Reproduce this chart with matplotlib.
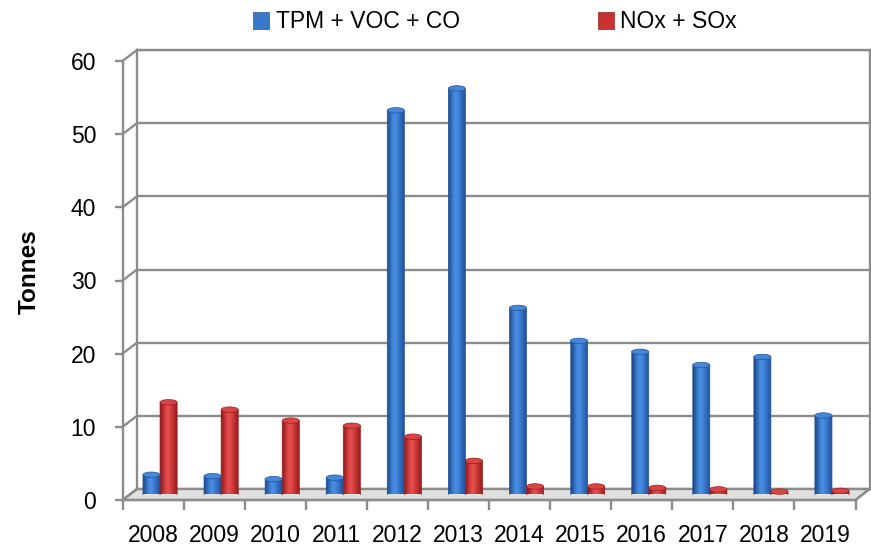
import numpy as np
import matplotlib
matplotlib.use('Agg')
import matplotlib.pyplot as plt
from matplotlib.patches import Ellipse, PathPatch, Patch, Polygon
from matplotlib.path import Path
from matplotlib.colors import LinearSegmentedColormap
from matplotlib.lines import Line2D

plt.rcParams['font.family'] = ['Liberation Sans', 'DejaVu Sans']

# ---------------- data ----------------
years = ['2008', '2009', '2010', '2011', '2012', '2013',
         '2014', '2015', '2016', '2017', '2018', '2019']
tpm_voc_co = [2.7, 2.5, 2.1, 2.3, 52.5, 55.5, 25.5, 21.0, 19.5, 17.7, 18.8, 10.8]
nox_sox = [12.6, 11.6, 10.1, 9.4, 7.9, 4.6, 1.1, 1.1, 0.9, 0.7, 0.4, 0.5]
series_names = ['TPM + VOC + CO', 'NOx + SOx']
y_ticks = [0, 10, 20, 30, 40, 50, 60]
y_label = 'Tonnes'

# ---------------- style ----------------
W, H = 871, 546
grid_c = '#8C8C8C'
grid_lw = 1.7
blue_cmap = LinearSegmentedColormap.from_list(
    'b', [(0, '#1B4784'), (0.3, '#3F84DA'), (0.45, '#4A8FE3'), (0.7, '#3572C6'), (1, '#1D4B8E')])
red_cmap = LinearSegmentedColormap.from_list(
    'r', [(0, '#8A1616'), (0.3, '#DA4343'), (0.45, '#E55252'), (0.7, '#C83434'), (1, '#8F1A1A')])
series_style = [
    dict(cmap=blue_cmap, cap='#4586D8', edge='#24569C', legend='#3A78C9'),
    dict(cmap=red_cmap, cap='#D94545', edge='#9A2020', legend='#C83232'),
]

n = len(years)
ymax = y_ticks[-1]
fig = plt.figure(figsize=(W / 100, H / 100), dpi=100)


def add_px_axes(x_left, x_right, y_zero, y_top, z):
    ax = fig.add_axes([x_left / W, 1 - y_zero / H, (x_right - x_left) / W, (y_zero - y_top) / H],
                      zorder=z)
    ax.set_xlim(-0.5, n - 0.5)
    ax.set_ylim(0, ymax)
    ax.patch.set_visible(False)
    return ax


back = add_px_axes(137, 869.5, 489, 50, 0)
mid = add_px_axes(129.5, 862.5, 494.5, 55.5, 1)
front = add_px_axes(122.5, 855.5, 500, 61, 2)

# ---------------- back wall ----------------
back.set_xticks([])
back.set_yticks(y_ticks)
back.tick_params(left=False, labelleft=False)
back.grid(axis='y', color=grid_c, lw=grid_lw)
for s in ['left', 'right', 'top']:
    back.spines[s].set(color=grid_c, lw=grid_lw)
back.spines['bottom'].set_visible(False)


def front_to_back(x, y):
    return back.transData.inverted().transform(front.transData.transform((x, y)))


# floor
fl = front_to_back(-0.5, 0)
fr = front_to_back(n - 0.5, 0)
floor = Polygon([(-0.5, 0), (n - 0.5, 0), fr, fl], closed=True, facecolor='#E0E0E0',
                edgecolor=grid_c, lw=grid_lw, clip_on=False, zorder=0.5)
back.add_patch(floor)

# diagonal connectors on the left wall edge
for v in y_ticks:
    p = front_to_back(-0.5, v)
    back.add_line(Line2D([p[0], -0.5], [p[1], v], color=grid_c, lw=grid_lw, clip_on=False))

# ---------------- cylinders ----------------
bw = 0.28
eh = 0.75


def cylinder(ax, xc, val, w, st):
    x0, x1 = xc - w / 2, xc + w / 2
    th = np.linspace(np.pi, 2 * np.pi, 40)
    bottom = np.column_stack([xc + w / 2 * np.cos(th), eh / 2 * np.sin(th)])
    verts = np.vstack([[x0, val], bottom, [x1, val], [x0, val]])
    codes = [Path.MOVETO] + [Path.LINETO] * (len(verts) - 2) + [Path.CLOSEPOLY]
    path = Path(verts, codes)
    clip = PathPatch(path, transform=ax.transData, facecolor='none', edgecolor='none')
    ax.add_patch(clip)
    grad = np.linspace(0, 1, 64).reshape(1, -1)
    im = ax.imshow(grad, cmap=st['cmap'], extent=(x0, x1, -eh / 2, val), aspect='auto',
                   interpolation='bilinear', origin='lower', zorder=2)
    im.set_clip_path(clip)
    ax.add_patch(PathPatch(path, facecolor='none', edgecolor=st['edge'], lw=0.5, zorder=3))
    ax.add_patch(Ellipse((xc, val), w, eh, facecolor=st['cap'], edgecolor=st['edge'],
                         lw=0.5, zorder=4))


for j, vals in enumerate([tpm_voc_co, nox_sox]):
    for i, v in enumerate(vals):
        cylinder(mid, i + (j - 0.5) * bw, v, bw, series_style[j])

mid.set_xlim(-0.5, n - 0.5)
mid.set_ylim(0, ymax)
mid.set_axis_off()

# ---------------- front axes ----------------
for s in ['top', 'right']:
    front.spines[s].set_visible(False)
for s in ['left', 'bottom']:
    front.spines[s].set(color=grid_c, lw=grid_lw)
front.set_yticks(y_ticks)
front.set_yticklabels([str(t) for t in y_ticks])
front.tick_params(axis='y', direction='out', length=6, width=grid_lw, color=grid_c,
                  pad=13, labelsize=16.5)
front.set_xticks(np.arange(n + 1) - 0.5)
front.set_xticks(np.arange(n), minor=True)
front.set_xticklabels(years, minor=True)
front.tick_params(axis='x', which='major', direction='out', length=7, width=grid_lw,
                  color=grid_c, labelbottom=False)
front.tick_params(axis='x', which='minor', length=0, pad=17, labelsize=16.5)

# right floor edge connector
p = front_to_back(n - 0.5, 0)
back.add_line(Line2D([p[0], n - 0.5], [p[1], 0], color=grid_c, lw=grid_lw, clip_on=False))

# ---------------- labels / legend ----------------
fig.text(29 / W, 1 - 272 / H, y_label, rotation=90, fontweight='bold', fontsize=17.5,
         ha='center', va='center')

handles = [Patch(facecolor=st['legend'], edgecolor=st['edge'], lw=0.5) for st in series_style]
fig.legend(handles=handles, labels=series_names, loc='center',
           bbox_to_anchor=(495 / W, 1 - 22 / H), ncol=2, frameon=False, fontsize=16.5,
           handlelength=0.7, handleheight=0.7, handletextpad=0.3, columnspacing=6.0)

fig.savefig('out.png', dpi=100)
